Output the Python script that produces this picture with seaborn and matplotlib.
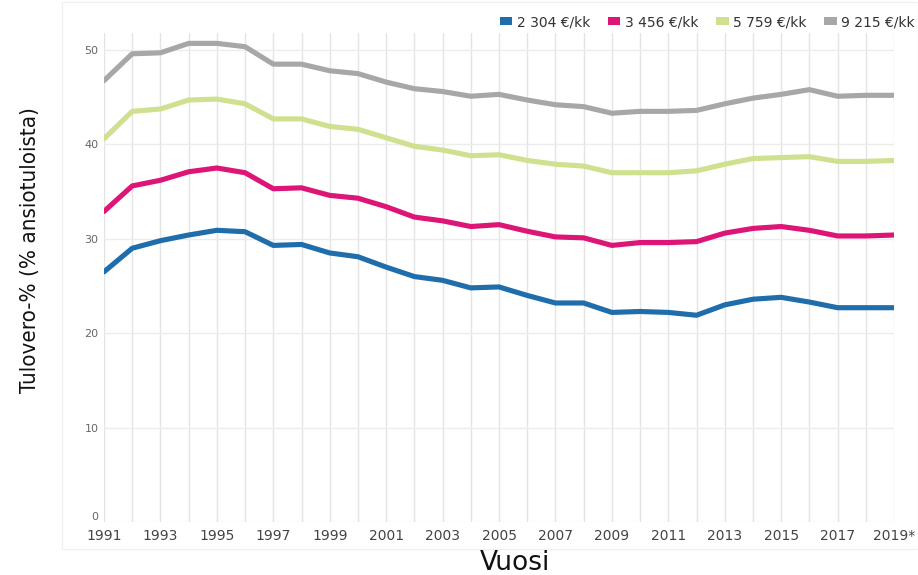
import numpy as np
import pandas as pd
import matplotlib
matplotlib.use("Agg")
import matplotlib.pyplot as plt
import matplotlib.patches as mpatches
import seaborn as sns

years = list(range(1991, 2020))
tick_years = list(range(1991, 2020, 2))
tick_labels = [str(y) for y in range(1991, 2019, 2)] + ["2019*"]

series_names = ["2 304 €/kk", "3 456 €/kk", "5 759 €/kk", "9 215 €/kk"]
colors = ["#1f6dab", "#dc1577", "#cfe08e", "#a7a7a7"]

v_2304 = [26.5, 29.0, 29.8, 30.4, 30.9, 30.75, 29.3, 29.4, 28.5, 28.1,
          27.0, 26.0, 25.6, 24.8, 24.9, 24.0, 23.2, 23.2, 22.2, 22.3,
          22.2, 21.9, 23.0, 23.6, 23.8, 23.3, 22.7, 22.7, 22.7]
v_3456 = [32.9, 35.6, 36.2, 37.1, 37.5, 37.0, 35.3, 35.4, 34.6, 34.3,
          33.4, 32.3, 31.9, 31.3, 31.5, 30.8, 30.2, 30.1, 29.3, 29.6,
          29.6, 29.7, 30.6, 31.1, 31.3, 30.9, 30.3, 30.3, 30.4]
v_5759 = [40.6, 43.5, 43.75, 44.7, 44.8, 44.3, 42.7, 42.7, 41.9, 41.6,
          40.7, 39.8, 39.4, 38.8, 38.9, 38.3, 37.9, 37.7, 37.0, 37.0,
          37.0, 37.2, 37.9, 38.5, 38.6, 38.7, 38.2, 38.2, 38.3]
v_9215 = [46.75, 49.6, 49.7, 50.7, 50.7, 50.35, 48.5, 48.5, 47.8, 47.5,
          46.6, 45.9, 45.6, 45.1, 45.3, 44.7, 44.2, 44.0, 43.3, 43.5,
          43.5, 43.6, 44.3, 44.9, 45.3, 45.8, 45.1, 45.2, 45.2]

values = [v_2304, v_3456, v_5759, v_9215]
df = pd.concat(
    [pd.DataFrame({"Vuosi": years, "Tulovero": v, "Tulotaso": n})
     for n, v in zip(series_names, values)],
    ignore_index=True,
)

sns.set_style("white")
plt.rcParams["font.family"] = ["DejaVu Sans"]

W, H = 918, 575
fig = plt.figure(figsize=(W / 100, H / 100), dpi=100)

# faint outer panel of the embedded chart
fig.patches.append(mpatches.Rectangle((62 / W, 1 - 549 / H), (W - 62) / W, 547 / H,
                                      transform=fig.transFigure, fill=False,
                                      edgecolor="#f0f0f0", lw=1.0, zorder=0))

ax = fig.add_axes([104 / W, 1 - 522 / H, (894 - 104) / W, (522 - 33) / H])
sns.lineplot(data=df, x="Vuosi", y="Tulovero", hue="Tulotaso",
             palette=colors, hue_order=series_names, linewidth=3.7,
             legend=False, ax=ax, zorder=3)

ax.set_xlim(1991, 2019)
ax.set_ylim(0, 51.8)
ax.set_xticks(years, minor=True)
ax.set_xticks(tick_years)
ax.set_xticklabels(tick_labels, fontsize=10, color="#444444")
ax.set_yticks([0, 10, 20, 30, 40, 50])
ax.set_yticklabels(["0", "10", "20", "30", "40", "50"], fontsize=8, color="#666666")
ax.tick_params(axis="x", which="both", length=0, pad=5)
ax.tick_params(axis="y", length=0, pad=4)
for lab in ax.get_yticklabels():
    if lab.get_text() == "0":
        lab.set_va("bottom")
ax.grid(True, axis="x", which="both", color="#e4e4e4", lw=1.0)
ax.grid(True, axis="y", which="major", color="#ececec", lw=1.0)
for s in ax.spines.values():
    s.set_visible(False)
ax.set_xlabel("")
ax.set_ylabel("")

fig.text(515 / W, 1 - 563 / H, "Vuosi", fontsize=19, color="#111111",
         ha="center", va="center")
fig.text(30 / W, 1 - 250 / H, "Tulovero-% (% ansiotuloista)", fontsize=16,
         rotation=90, ha="center", va="center", color="#111111",
         family=["Liberation Sans Narrow", "DejaVu Sans"], stretch="condensed")

handles = [mpatches.Patch(facecolor=c, edgecolor="none", label=n)
           for n, c in zip(series_names, colors)]
fig.legend(handles=handles, loc="center right", bbox_to_anchor=(1.01, 1 - 22 / H),
           ncol=4, frameon=False, fontsize=10, handlelength=0.9, handleheight=0.5,
           handletextpad=0.3, columnspacing=1.3, labelcolor="#333333")

fig.savefig("out.png", dpi=100)
